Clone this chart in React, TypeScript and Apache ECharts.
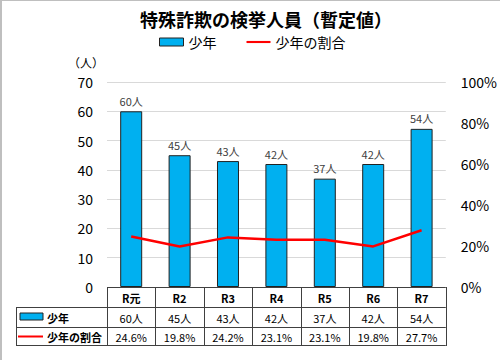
import React, { useEffect, useRef } from "react";
import * as echarts from "echarts";

const categories = ["R元", "R2", "R3", "R4", "R5", "R6", "R7"];
const youthCounts = [60, 45, 43, 42, 37, 42, 54];
const youthRatio = [24.6, 19.8, 24.2, 23.1, 23.1, 19.8, 27.7];
const leftTicks = { min: 0, max: 70, interval: 10 };
const rightTicks = { min: 0, max: 100, interval: 20 };
const seriesNames = ["少年", "少年の割合"];
const titleText = "特殊詐欺の検挙人員（暫定値）";
const unitText = "（人）";

const FONT = "'Noto Sans CJK JP', 'Noto Sans', sans-serif";
const BAR_COLOR = "#00B0F0";
const LINE_COLOR = "#FF0000";

export default function App() {
  const ref = useRef<HTMLDivElement>(null);
  useEffect(() => {
    document.body.style.margin = "0";
    const chart = echarts.init(ref.current!, null, { renderer: "svg" });
    const gridLeft = 107;
    const gridRight = 50;
    const gridTop = 82;
    const gridBottom = 73;
    chart.setOption({
      animation: false,
      backgroundColor: "#FFFFFF",
      textStyle: { fontFamily: FONT },
      title: {
        text: titleText,
        left: 261,
        textAlign: "center",
        top: 5,
        textStyle: { fontSize: 18, fontWeight: "bold", color: "#000", fontFamily: FONT },
      },
      legend: {
        top: 30,
        left: 154,
        itemGap: 30,
        itemWidth: 24,
        itemHeight: 8,
        textStyle: { fontSize: 14, color: "#000", fontFamily: FONT },
        data: [
          { name: seriesNames[0], icon: "rect", itemStyle: { borderColor: "#222", borderWidth: 1 } },
          { name: seriesNames[1], icon: "path://M0 0H25V2.2H0Z" },
        ],
      },
      grid: { left: gridLeft, right: gridRight, top: gridTop, bottom: gridBottom },
      xAxis: {
        type: "category",
        data: categories,
        axisLine: { show: false },
        axisTick: { show: false },
        axisLabel: { show: false },
      },
      yAxis: [
        {
          type: "value",
          min: leftTicks.min,
          max: leftTicks.max,
          interval: leftTicks.interval,
          axisLabel: { fontSize: 14, color: "#000", margin: 14, fontFamily: FONT },
          splitLine: { lineStyle: { color: "#D9D9D9", width: 1 } },
          axisLine: { show: false },
          axisTick: { show: false },
        },
        {
          type: "value",
          min: rightTicks.min,
          max: rightTicks.max,
          interval: rightTicks.interval,
          axisLabel: { fontSize: 14, color: "#000", margin: 15, formatter: "{value}%", fontFamily: FONT },
          splitLine: { show: false },
          axisLine: { show: false },
          axisTick: { show: false },
        },
      ],
      series: [
        {
          name: seriesNames[0],
          type: "bar",
          data: youthCounts,
          barWidth: 22,
          itemStyle: { color: BAR_COLOR, borderColor: "#222", borderWidth: 1 },
          label: {
            show: true,
            position: "top",
            distance: 5,
            formatter: "{c}人",
            fontSize: 11,
            color: "#404040",
            fontFamily: FONT,
          },
        },
        {
          name: seriesNames[1],
          type: "line",
          yAxisIndex: 1,
          data: youthRatio,
          symbol: "none",
          lineStyle: { color: LINE_COLOR, width: 2.5 },
          itemStyle: { color: LINE_COLOR },
        },
      ],
    });

    // Build the data table beneath the plot using the axis' pixel positions
    const x0 = chart.convertToPixel({ xAxisIndex: 0 }, 0) as number;
    const x1 = chart.convertToPixel({ xAxisIndex: 0 }, 1) as number;
    const cw = x1 - x0;
    const tableLeft = x0 - cw / 2;
    const tableRight = tableLeft + cw * categories.length;
    const labelLeft = 16;
    const yHeader = 287;
    const y2 = 307;
    const y3 = 327;
    const yEnd = 345;
    const stroke = { stroke: "#404040", lineWidth: 1 };
    const els: any[] = [];
    const hLine = (xa: number, xb: number, y: number) =>
      els.push({ type: "line", shape: { x1: xa, y1: y + 0.5, x2: xb, y2: y + 0.5 }, style: stroke, silent: true });
    const vLine = (x: number, ya: number, yb: number) =>
      els.push({ type: "line", shape: { x1: x + 0.5, y1: ya, x2: x + 0.5, y2: yb }, style: stroke, silent: true });
    hLine(tableLeft, tableRight, yHeader);
    hLine(labelLeft, tableRight, y2);
    hLine(labelLeft, tableRight, y3);
    hLine(labelLeft, tableRight, yEnd);
    vLine(labelLeft, y2, yEnd + 1);
    for (let i = 0; i <= categories.length; i++) {
      vLine(Math.round(tableLeft + cw * i), yHeader, yEnd + 1);
    }
    const cellText = (x: number, y: number, text: string, size = 11, weight: any = "normal", align = "center") =>
      els.push({
        type: "text",
        x,
        y,
        style: { text, fontSize: size, fontWeight: weight, fill: "#000", align, verticalAlign: "middle", fontFamily: FONT },
        silent: true,
      });
    categories.forEach((c, i) => {
      const cx = chart.convertToPixel({ xAxisIndex: 0 }, i) as number;
      cellText(cx, (yHeader + y2) / 2 + 1, c, 11, "bold");
      cellText(cx, (y2 + y3) / 2 + 1, `${youthCounts[i]}人`, 11);
      cellText(cx, (y3 + yEnd) / 2 + 1, `${youthRatio[i].toFixed(1)}%`, 11);
    });
    // legend keys in table
    els.push({
      type: "rect",
      shape: { x: 20, y: 313, width: 23, height: 7 },
      style: { fill: BAR_COLOR, stroke: "#222", lineWidth: 1 },
      silent: true,
    });
    cellText(47, (y2 + y3) / 2 + 1, seriesNames[0], 11, "bold", "left");
    els.push({
      type: "line",
      shape: { x1: 18, y1: 336.5, x2: 43, y2: 336.5 },
      style: { stroke: LINE_COLOR, lineWidth: 2 },
      silent: true,
    });
    cellText(47, (y3 + yEnd) / 2 + 1, seriesNames[1], 11, "bold", "left");
    // unit
    els.push({
      type: "text",
      x: 68,
      y: 62,
      style: { text: unitText, fontSize: 12, fill: "#000", align: "left", verticalAlign: "middle", fontFamily: FONT },
      silent: true,
    });
    // outer frame (top & left visible)
    els.push({ type: "line", shape: { x1: 0, y1: 0.5, x2: 500, y2: 0.5 }, style: { stroke: "#BFBFBF", lineWidth: 1 }, silent: true });
    els.push({ type: "line", shape: { x1: 1, y1: 0, x2: 1, y2: 360 }, style: { stroke: "#BFBFBF", lineWidth: 2 }, silent: true });
    chart.setOption({ graphic: { elements: els } });

    return () => chart.dispose();
  }, []);
  return <div ref={ref} style={{ width: 500, height: 360 }} />;
}
